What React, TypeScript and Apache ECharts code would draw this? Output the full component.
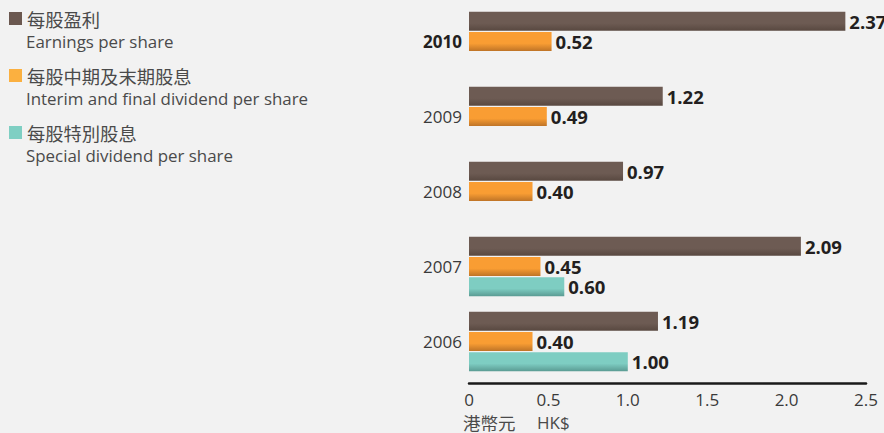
import React, { useEffect, useRef } from "react";
import * as echarts from "echarts";

const years = ["2010", "2009", "2008", "2007", "2006"];
const eps = [2.37, 1.22, 0.97, 2.09, 1.19];
const dividend = [0.52, 0.49, 0.4, 0.45, 0.4];
const special = [null, null, null, 0.6, 1.0];
const xTicks = { min: 0, max: 2.5, interval: 0.5 };
const legendItems = [
  { zh: "每股盈利", en: "Earnings per share", color: "#6b5850" },
  { zh: "每股中期及末期股息", en: "Interim and final dividend per share", color: "#fbb040" },
  { zh: "每股特別股息", en: "Special dividend per share", color: "#7fcfc3" },
];
const unitZh = "港幣元";
const unitEn = "HK$";

const grad = (main: string, dark: string) =>
  new echarts.graphic.LinearGradient(0, 0, 0, 1, [
    { offset: 0, color: main },
    { offset: 0.6, color: main },
    { offset: 1, color: dark },
  ]);

export default function App() {
  const ref = useRef<HTMLDivElement>(null);
  useEffect(() => {
    if (!ref.current) return;
    const chart = echarts.init(ref.current, null, { renderer: "svg" });
    const label = {
      show: true,
      position: "right" as const,
      distance: 4,
      fontFamily: "Open Sans",
      fontWeight: "bold" as const,
      fontSize: 18.5,
      color: "#231f20",
      formatter: (p: any) => (p.value == null ? "" : Number(p.value).toFixed(2)),
    };
    const graphics: any[] = [];
    legendItems.forEach((it, i) => {
      const y0 = i * 57;
      graphics.push({
        type: "rect",
        left: 9,
        top: 12 + y0,
        shape: { width: 13, height: 13 },
        style: { fill: it.color },
      });
      graphics.push({
        type: "text",
        x: 27,
        y: 18.5 + y0,
        style: {
          text: it.zh,
          fill: "#4a4a4a",
          font: '18.3px "Noto Sans CJK TC"',
          verticalAlign: "middle",
        },
      });
      graphics.push({
        type: "text",
        x: 26,
        y: 41 + y0,
        style: {
          text: it.en,
          fill: "#4a4a4a",
          font: '16.9px "Open Sans"',
          verticalAlign: "middle",
        },
      });
    });
    graphics.push({
      type: "text",
      x: 463,
      y: 422,
      style: {
        text: unitZh,
        fill: "#4a4a4a",
        font: '17.5px "Noto Sans CJK TC"',
        verticalAlign: "middle",
      },
    });
    graphics.push({
      type: "text",
      x: 537,
      y: 422,
      style: {
        text: unitEn,
        fill: "#4a4a4a",
        font: '17px "Open Sans"',
        verticalAlign: "middle",
      },
    });
    chart.setOption({
      animation: false,
      backgroundColor: "#f2f2f2",
      grid: { left: 469, right: 18, top: 4, bottom: 54, containLabel: false, outerBoundsMode: "none" },
      xAxis: {
        type: "value",
        min: xTicks.min,
        max: xTicks.max,
        interval: xTicks.interval,
        offset: 4,
        splitLine: { show: false },
        axisTick: { show: false },
        axisLine: { show: true, lineStyle: { color: "#1a1a1a", width: 2.5 } },
        axisLabel: {
          margin: 7,
          fontFamily: "Open Sans",
          fontSize: 17,
          lineHeight: 18,
          color: "#3a3a3a",
          formatter: (v: number) => (v === 0 ? "0" : v.toFixed(1)),
        },
      },
      yAxis: {
        type: "category",
        inverse: true,
        data: years,
        axisLine: { show: false },
        axisTick: { show: false },
        axisLabel: {
          margin: 7,
          formatter: (v: string) => (v === "2010" ? "{b|" + v + "}" : "{n|" + v + "}"),
          rich: {
            b: { fontFamily: "Open Sans", fontSize: 17, fontWeight: "bold", color: "#231f20" },
            n: { fontFamily: "Open Sans", fontSize: 17, color: "#3a3a3a" },
          },
        },
      },
      series: [
        {
          type: "bar",
          data: eps,
          barWidth: 19,
          barGap: "6%",
          itemStyle: { color: grad("#6d5b53", "#584840") },
          label,
        },
        {
          type: "bar",
          data: dividend,
          barWidth: 19,
          barGap: "6%",
          itemStyle: { color: grad("#f99d33", "#bf7427") },
          label,
        },
        {
          type: "bar",
          data: special,
          barWidth: 19,
          barGap: "6%",
          itemStyle: { color: grad("#7ecdc2", "#5b9c94") },
          label,
        },
      ],
      graphic: graphics,
    });
    return () => chart.dispose();
  }, []);
  return (
    <div
      ref={ref}
      style={{ position: "absolute", left: 0, top: 0, width: 884, height: 433, background: "#f2f2f2" }}
    />
  );
}
